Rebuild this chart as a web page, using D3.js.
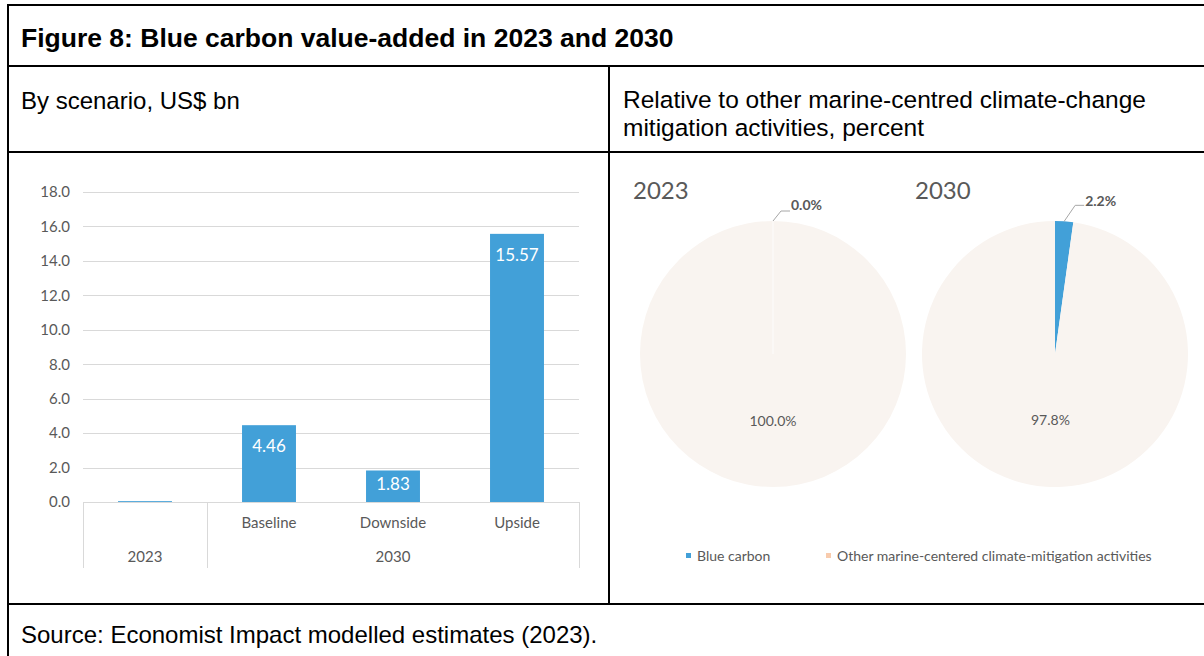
<!DOCTYPE html>
<html>
<head>
<meta charset="utf-8">
<script src="https://cdn.jsdelivr.net/npm/d3@7"></script>
<style>
  html, body { margin: 0; padding: 0; background: #fff; }
  svg { display: block; }
</style>
</head>
<body>
<svg id="fig" width="1204" height="656"></svg>
<script>
// ---- data ----
const barCategories = ["2023", "Baseline", "Downside", "Upside"];
const barGroups = ["2023", "2030", "2030", "2030"];
const barValues = [0.05, 4.46, 1.83, 15.57];
const barLabels = [null, "4.46", "1.83", "15.57"];
const yTicks = [0, 2, 4, 6, 8, 10, 12, 14, 16, 18];

const pieYears = ["2023", "2030"];
const pieSeries = ["Blue carbon", "Other marine-centered climate-mitigation activities"];
const blueCarbonShare = [0.0, 2.2];
const otherShare = [100.0, 97.8];

// ---- styles ----
const BLUE = "#42a0d8";
const PALE = "#f9f4f0";
const PALE_KEY = "#f8cbad";
const GREY = "#595959";
const GRID = "#d9d9d9";
const chartFont = "Lato, 'Open Sans', sans-serif";
const tableFont = "'Liberation Sans', Arial, sans-serif";

const svg = d3.select("#fig");

// ---- table frame ----
const frame = svg.append("g").attr("stroke", "#000").attr("stroke-width", 2);
[5, 66, 152, 604].forEach(yy =>
  frame.append("line").attr("x1", 8).attr("x2", 1204).attr("y1", yy).attr("y2", yy));
frame.append("line").attr("x1", 8).attr("x2", 8).attr("y1", 4).attr("y2", 656);
frame.append("line").attr("x1", 609).attr("x2", 609).attr("y1", 66).attr("y2", 604);

const txt = svg.append("g").attr("font-family", tableFont).attr("fill", "#000");
txt.append("text").attr("x", 21).attr("y", 47).attr("font-size", 26.5).attr("font-weight", "bold")
  .text("Figure 8: Blue carbon value-added in 2023 and 2030");
txt.append("text").attr("x", 21).attr("y", 109).attr("font-size", 24)
  .text("By scenario, US$ bn");
txt.append("text").attr("x", 623).attr("y", 108).attr("font-size", 24.5)
  .text("Relative to other marine-centred climate-change");
txt.append("text").attr("x", 623).attr("y", 136).attr("font-size", 24.5)
  .text("mitigation activities, percent");
txt.append("text").attr("x", 21).attr("y", 643).attr("font-size", 24)
  .text("Source: Economist Impact modelled estimates (2023).");

// ---- bar chart ----
const bars = barCategories.map((c, i) => ({ cat: c, group: barGroups[i], value: barValues[i], label: barLabels[i] }));

const x = d3.scaleBand().domain(barCategories).range([83, 579])
  .paddingInner(0.565).paddingOuter(0.2825);
const y = d3.scaleLinear().domain([0, 18]).range([502, 192]);

const bar = svg.append("g").attr("font-family", chartFont);

bar.append("g").selectAll("line").data(yTicks.filter(t => t > 0)).join("line")
  .attr("x1", 83).attr("x2", 579)
  .attr("y1", d => Math.round(y(d)) + 0.5).attr("y2", d => Math.round(y(d)) + 0.5)
  .attr("stroke", GRID).attr("stroke-width", 1);

const yAxis = bar.append("g").attr("transform", "translate(83,0)")
  .call(d3.axisLeft(y).tickValues(yTicks).tickFormat(d3.format(".1f")).tickSize(0).tickPadding(13));
yAxis.select(".domain").remove();
yAxis.selectAll("text").attr("font-family", chartFont).attr("font-size", 15).attr("fill", GREY);

bar.append("g").selectAll("rect").data(bars).join("rect")
  .attr("x", d => x(d.cat))
  .attr("width", x.bandwidth())
  .attr("y", d => y(d.value))
  .attr("height", d => y(0) - y(d.value))
  .attr("fill", BLUE);

// value labels sit inside the end of each bar
bar.append("g").selectAll("text").data(bars.filter(d => d.label !== null)).join("text")
  .attr("x", d => x(d.cat) + x.bandwidth() / 2)
  .attr("y", d => Math.min(y(d.value) + 27, y(0) - 12))
  .attr("text-anchor", "middle").attr("font-size", 17).attr("fill", "#fff")
  .text(d => d.label);

// category axis with two levels
const catAxis = bar.append("g").attr("stroke", GRID).attr("stroke-width", 1);
catAxis.append("line").attr("x1", 83).attr("x2", 579).attr("y1", y(0) + 0.5).attr("y2", y(0) + 0.5);
const groupEdges = [83, x(barCategories[1]) - x.step() * x.paddingInner() / 2, 579];
catAxis.selectAll("line.sep").data(groupEdges).join("line").attr("class", "sep")
  .attr("x1", d => Math.round(d) + 0.5).attr("x2", d => Math.round(d) + 0.5)
  .attr("y1", y(0)).attr("y2", 568);

bar.append("g").selectAll("text").data(bars.slice(1)).join("text")
  .attr("x", d => x(d.cat) + x.bandwidth() / 2).attr("y", 528)
  .attr("text-anchor", "middle").attr("font-size", 15).attr("fill", GREY).text(d => d.cat);

const groups = [["2023", groupEdges[0], groupEdges[1]], ["2030", groupEdges[1], groupEdges[2]]];
bar.append("g").selectAll("text").data(groups).join("text")
  .attr("x", d => (d[1] + d[2]) / 2).attr("y", 562)
  .attr("text-anchor", "middle").attr("font-size", 15).attr("fill", GREY).text(d => d[0]);

// ---- pies ----
const R = 133;
const pieCenters = [[773, 354], [1055, 354]];
const pie = d3.pie().sort(null).value(d => d);
const arc = d3.arc().innerRadius(0).outerRadius(R);
const pieColors = [BLUE, PALE];

pieYears.forEach((yr, k) => {
  const [cx, cy] = pieCenters[k];
  const g = svg.append("g").attr("transform", `translate(${cx},${cy})`).attr("font-family", chartFont);
  const arcs = pie([blueCarbonShare[k], otherShare[k]]);

  g.selectAll("path").data(arcs).join("path")
    .attr("d", arc).attr("fill", (d, i) => pieColors[i]);

  // hairline where the empty slice sits
  if (blueCarbonShare[k] === 0) {
    g.append("line").attr("x1", 0).attr("y1", 0).attr("x2", 0).attr("y2", -R)
      .attr("stroke", "#fff").attr("stroke-width", 0.8);
  }

  // year label
  svg.append("text").attr("x", cx - 140).attr("y", 199)
    .attr("font-family", chartFont).attr("font-size", 24).attr("fill", GREY).text(yr);

  // large slice label at centroid
  const c = arc.centroid(arcs[1]);
  g.append("text").attr("x", c[0]).attr("y", c[1] + 5)
    .attr("text-anchor", "middle").attr("font-size", 14).attr("fill", GREY)
    .text(d3.format(".1f")(otherShare[k]) + "%");

  // small slice label with leader line
  const a = (arcs[0].startAngle + arcs[0].endAngle) / 2;
  const px = R * Math.sin(a), py = -R * Math.cos(a);
  const ex = px + 8 + k * 3, ey = py - 10 - k * 6;
  g.append("polyline")
    .attr("points", `${px},${py} ${ex},${ey} ${ex + 9},${ey}`)
    .attr("fill", "none").attr("stroke", "#a6a6a6").attr("stroke-width", 1);
  g.append("text").attr("x", ex + 10).attr("y", ey - 1 + k * 2)
    .attr("font-size", 14).attr("font-weight", "bold").attr("fill", GREY)
    .text(d3.format(".1f")(blueCarbonShare[k]) + "%");
});

// ---- legend ----
const legend = svg.append("g").attr("font-family", chartFont).attr("font-size", 14).attr("fill", GREY);
const legendX = [686, 826];
const legendColors = [BLUE, PALE_KEY];
pieSeries.forEach((s, i) => {
  legend.append("rect").attr("x", legendX[i]).attr("y", 553).attr("width", 5).attr("height", 5)
    .attr("fill", legendColors[i]);
  legend.append("text").attr("x", legendX[i] + 11).attr("y", 561).text(s);
});
</script>
</body>
</html>
